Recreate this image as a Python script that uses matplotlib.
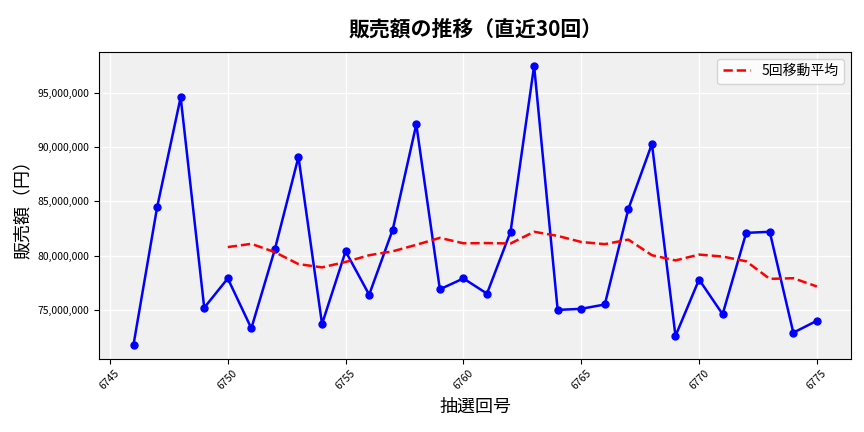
import matplotlib
matplotlib.use("Agg")
import matplotlib.pyplot as plt
import pandas as pd

plt.rcParams["font.family"] = "Noto Sans CJK JP"

draws = list(range(6746, 6776))
sales = [71.8, 84.45, 94.6, 75.2, 77.9, 73.3, 80.6, 89.1, 73.7, 80.4,
         76.4, 82.4, 92.1, 76.9, 77.9, 76.5, 82.2, 97.5, 75.0, 75.1,
         75.5, 84.3, 90.3, 72.6, 77.8, 74.6, 82.1, 82.2, 72.9, 74.0]
sales = [v * 1e6 for v in sales]
ma = pd.Series(sales).rolling(5).mean()

fig, ax = plt.subplots(figsize=(8.64, 4.32), dpi=100)
ax.set_facecolor("#f0f0f0")
ax.grid(True, color="white", linewidth=1)
ax.set_axisbelow(True)
ax.plot(draws, sales, color="blue", marker="o", markersize=5, linewidth=1.8)
ax.plot(draws, ma, color="red", linestyle="--", linewidth=1.8, label="5回移動平均")
ax.set_title("販売額の推移（直近30回）", fontsize=15, fontweight="bold", pad=12)
ax.set_xlabel("抽選回号", fontsize=13)
ax.set_ylabel("販売額（円）", fontsize=13)
ax.yaxis.set_major_formatter(matplotlib.ticker.FuncFormatter(lambda v, p: f"{v:,.0f}"))
ax.tick_params(axis="both", labelsize=7.5)
plt.setp(ax.get_xticklabels(), rotation=45)
ax.legend(loc="upper right", fontsize=10)
fig.subplots_adjust(left=0.115, right=0.985, top=0.88, bottom=0.17)
fig.savefig("out.png")
